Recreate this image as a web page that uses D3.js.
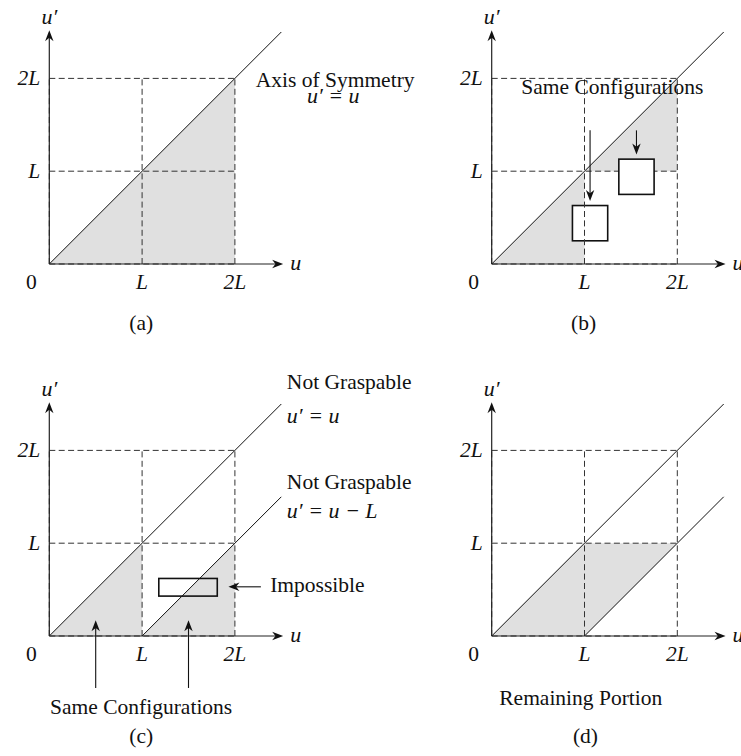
<html lang="en">
  <head>
    <meta charset="utf-8">
    <title>Configuration space symmetry</title>
    <script src="https://d3js.org/d3.v7.min.js"></script>
    <style>
      body { margin: 0; background: #fff; }
    </style>
  </head>
  <body>
    <div id="viz"></div>
    <script type="text/javascript">
    // chart values, in units of L
    var panels = ["a", "b", "c", "d"];
    var gridValues = [1, 2];
    var tickLabels = ["0", "L", "2L"];
    var axisEnd = 2.52;
    var lineEnd = 2.5;

    // diagonal lines u' = u - offset
    var diagonals = { a: [0], b: [0], c: [0, 1], d: [0, 1] };

    // grey regions
    var shaded = {
      a: [[[0, 0], [2, 0], [2, 2]]],
      b: [[[0, 0], [1, 0], [1, 1]], [[1, 1], [2, 1], [2, 2]]],
      c: [[[0, 0], [1, 0], [1, 1]], [[1, 0], [2, 0], [2, 1]]],
      d: [[[0, 0], [1, 0], [2, 1], [1, 1]]]
    };

    // boxes [u0, u'0, u1, u'1]
    var boxes = {
      b: [[0.87, 0.25, 1.25, 0.63], [1.37, 0.75, 1.75, 1.13]],
      c: [[1.18, 0.43, 1.81, 0.62]]
    };

    // pointer arrows [from u, from u', to u, to u']
    var pointers = {
      b: [[1.06, 1.44, 1.06, 0.68], [1.56, 1.44, 1.56, 1.18]],
      c: [[0.5, -0.56, 0.5, 0.17], [1.5, -0.56, 1.5, 0.17], [2.28, 0.53, 1.93, 0.53]]
    };

    // notes [u, u', text, anchor, math?]
    var notes = {
      a: [[3.08, 1.91, "Axis of Symmetry", "middle", false],
          [3.06, 1.74, "u′ = u", "middle", true]],
      b: [[1.3, 1.83, "Same Configurations", "middle", false]],
      c: [[2.56, 2.66, "Not Graspable", "start", false],
          [2.56, 2.29, "u′ = u", "start", true],
          [2.56, 1.58, "Not Graspable", "start", false],
          [2.56, 1.27, "u′ = u − L", "start", true],
          [2.38, 0.47, "Impossible", "start", false],
          [0.99, -0.84, "Same Configurations", "middle", false]],
      d: [[0.96, -0.74, "Remaining Portion", "middle", false]]
    };
    var captions = { a: "(a)", b: "(b)", c: "(c)", d: "(d)" };

    var width = 741, height = 756;
    var unit = 92.8;
    var origins = { a: [49.3, 264], b: [491.7, 264], c: [49.3, 636], d: [491.7, 636] };
    var serif = "'Liberation Serif', 'Times New Roman', serif";

    var svg = d3.select("#viz").append("svg")
        .attr("width", width)
        .attr("height", height);

    function label(g, xp, yp, str, anchor, italic, size) {
      return g.append("text")
        .attr("x", xp).attr("y", yp)
        .attr("text-anchor", anchor)
        .style("font-family", serif)
        .style("font-style", italic ? "italic" : "normal")
        .style("font-size", (size || 21.5) + "px")
        .style("fill", "#111")
        .text(str);
    }

    function arrowHead(g, x1, y1, x2, y2, len, half) {
      var ang = Math.atan2(y2 - y1, x2 - x1);
      var bx = x2 - len * Math.cos(ang), by = y2 - len * Math.sin(ang);
      var px = -Math.sin(ang) * half, py = Math.cos(ang) * half;
      g.append("path")
        .attr("d", "M" + x2 + "," + y2 + "L" + (bx + px) + "," + (by + py) +
              "L" + (bx + 0.3 * len * Math.cos(ang)) + "," + (by + 0.3 * len * Math.sin(ang)) +
              "L" + (bx - px) + "," + (by - py) + "Z")
        .attr("fill", "#111");
    }

    panels.forEach(function(p) {
      var o = origins[p];
      var x = d3.scaleLinear().domain([0, 1]).range([o[0], o[0] + unit]);
      var y = d3.scaleLinear().domain([0, 1]).range([o[1], o[1] - unit]);
      var g = svg.append("g").attr("class", "panel-" + p);

      // shading
      g.selectAll("polygon.shade")
        .data(shaded[p])
        .enter().append("polygon")
        .attr("class", "shade")
        .attr("points", function(d) { return d.map(function(q) { return x(q[0]) + "," + y(q[1]); }).join(" "); })
        .attr("fill", "#e0e0e0");

      var bx = boxes[p] || [];
      function drawBox(d) {
        g.append("rect")
          .attr("x", x(d[0])).attr("y", y(d[3]))
          .attr("width", x(d[2]) - x(d[0]))
          .attr("height", y(d[1]) - y(d[3]))
          .attr("fill", p === "b" ? "#fff" : "none")
          .attr("stroke", "#111")
          .attr("stroke-width", 1.6);
      }
      // lower box of (b) sits under the dashes
      if (p === "b") drawBox(bx[0]);

      // dashed grid
      var dash = g.append("g")
        .attr("stroke", "#333")
        .attr("stroke-width", 1)
        .attr("stroke-dasharray", "6,3.4");
      [0].concat(gridValues).forEach(function(v) {
        dash.append("line")
          .attr("x1", x(0)).attr("x2", x(2))
          .attr("y1", y(v)).attr("y2", y(v));
        dash.append("line")
          .attr("x1", x(v)).attr("x2", x(v))
          .attr("y1", y(0)).attr("y2", y(2));
      });

      if (p === "b") drawBox(bx[1]);
      if (p === "c") drawBox(bx[0]);

      // diagonals
      g.selectAll("line.diag")
        .data(diagonals[p])
        .enter().append("line")
        .attr("class", "diag")
        .attr("x1", function(d) { return x(d); })
        .attr("y1", y(0))
        .attr("x2", x(lineEnd))
        .attr("y2", function(d) { return y(lineEnd - d); })
        .attr("stroke", "#111")
        .attr("stroke-width", 1);

      // axes
      g.append("line")
        .attr("x1", x(0)).attr("y1", y(0))
        .attr("x2", x(axisEnd) - 6).attr("y2", y(0))
        .attr("stroke", "#222").attr("stroke-width", 1.2);
      arrowHead(g, x(0), y(0), x(axisEnd), y(0), 11, 4.2);
      g.append("line")
        .attr("x1", x(0)).attr("y1", y(0))
        .attr("x2", x(0)).attr("y2", y(axisEnd) + 6)
        .attr("stroke", "#222").attr("stroke-width", 1.2);
      arrowHead(g, x(0), y(0), x(0), y(axisEnd), 11, 4.2);

      // axis labels
      label(g, x(axisEnd) + 7, y(0) + 6, "u", "start", true, 22);
      label(g, x(0), y(axisEnd) - 6, "u′", "middle", true, 22);

      // tick labels
      [0, 1, 2].forEach(function(d) {
        label(g, d === 0 ? x(0) - 18 : x(d), y(0) + 25, tickLabels[d], "middle", d !== 0);
      });
      gridValues.forEach(function(d) {
        label(g, x(0) - 9, y(d) + 7, tickLabels[d], "end", true);
      });

      // pointer arrows
      (pointers[p] || []).forEach(function(d) {
        var x1 = x(d[0]), y1 = y(d[1]), x2 = x(d[2]), y2 = y(d[3]);
        var ang = Math.atan2(y2 - y1, x2 - x1);
        g.append("line")
          .attr("x1", x1).attr("y1", y1)
          .attr("x2", x2 - 6 * Math.cos(ang)).attr("y2", y2 - 6 * Math.sin(ang))
          .attr("stroke", "#111").attr("stroke-width", 1.1);
        arrowHead(g, x1, y1, x2, y2, 11, 4.2);
      });

      // notes
      (notes[p] || []).forEach(function(d) {
        label(g, x(d[0]), y(d[1]), d[2], d[3], d[4], d[4] ? 22 : 21.5);
      });

      // caption
      label(g, x(p === "d" ? 1.01 : 0.99), y(p === "a" || p === "b" ? -0.71 : -1.15),
            captions[p], "middle", false);
    });
    </script>
  </body>
</html>
